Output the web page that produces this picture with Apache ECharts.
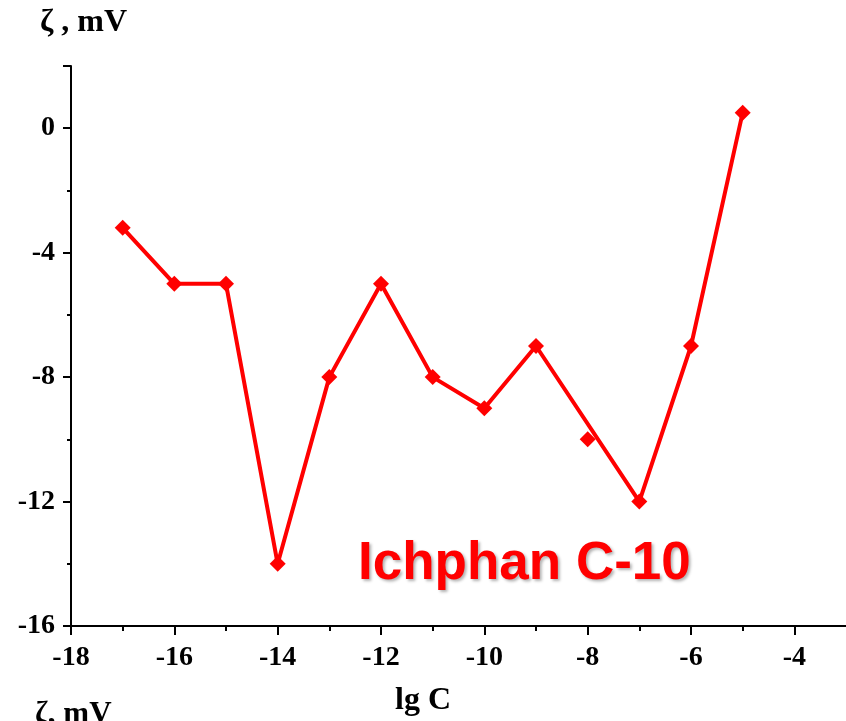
<!DOCTYPE html>
<html>
<head>
<meta charset="utf-8">
<script src="https://cdn.jsdelivr.net/npm/echarts@6/dist/echarts.min.js"></script>
<style>
  html, body { margin: 0; padding: 0; background: #fff; }
  #main { width: 846px; height: 721px; }
</style>
</head>
<body>
<div id="main"></div>
<script>
// lg C values joined by the line
const lgC = [-17, -16, -15, -14, -13, -12, -11, -10, -9, -7, -6, -5];
const zeta = [-3.2, -5, -5, -14, -8, -5, -8, -9, -7, -12, -7, 0.5];
// lone point not on the line
const lgCExtra = [-8];
const zetaExtra = [-10];

const xMajor = [-18, -16, -14, -12, -10, -8, -6, -4];
const xMinor = [-17, -15, -13, -11, -9, -7, -5];
const yMajor = [-16, -12, -8, -4, 0, 2];
const yLabels = [-16, -12, -8, -4, 0];
const yMinor = [-14, -10, -6, -2];

const chart = echarts.init(document.getElementById("main"));

const labelFont = {
  fontFamily: "Liberation Serif",
  fontWeight: "bold",
  fontSize: 28,
  color: "#000",
};
const axisLine = { show: true, onZero: false, lineStyle: { color: "#000", width: 2 } };
const tickStyle = { color: "#000", width: 2 };

const options = {
  animation: false,
  backgroundColor: "#fff",
  grid: { left: 71, right: 0, top: 66, bottom: 95, containLabel: false },
  xAxis: [
    {
      type: "value",
      min: -18,
      max: -3,
      interval: 2,
      splitLine: { show: false },
      axisLine,
      axisTick: { show: true, length: 9, customValues: xMajor, lineStyle: tickStyle },
      axisLabel: { customValues: xMajor, margin: 18, ...labelFont },
    },
    {
      type: "value",
      min: -18,
      max: -3,
      position: "bottom",
      splitLine: { show: false },
      axisLine: { show: false, onZero: false },
      axisTick: { show: true, length: 5, customValues: xMinor, lineStyle: tickStyle },
      axisLabel: { show: false },
    },
  ],
  yAxis: [
    {
      type: "value",
      min: -16,
      max: 2,
      interval: 4,
      splitLine: { show: false },
      axisLine,
      axisTick: { show: true, length: 8, customValues: yMajor, lineStyle: tickStyle },
      axisLabel: { customValues: yLabels, margin: 16, ...labelFont },
    },
    {
      type: "value",
      min: -16,
      max: 2,
      position: "left",
      splitLine: { show: false },
      axisLine: { show: false, onZero: false },
      axisTick: { show: true, length: 4, customValues: yMinor, lineStyle: tickStyle },
      axisLabel: { show: false },
    },
  ],
  series: [
    {
      type: "line",
      data: lgC.map((x, i) => [x, zeta[i]]),
      symbol: "diamond",
      symbolSize: 16,
      lineStyle: { color: "#ff0000", width: 4 },
      itemStyle: { color: "#ff0000", opacity: 1 },
    },
    {
      type: "scatter",
      data: lgCExtra.map((x, i) => [x, zetaExtra[i]]),
      symbol: "diamond",
      symbolSize: 16,
      itemStyle: { color: "#ff0000", opacity: 1 },
    },
  ],
  graphic: [
    {
      type: "text",
      left: 40,
      top: 7,
      style: { text: "ζ , mV", font: "bold 32px 'Liberation Serif'", fill: "#000" },
    },
    {
      type: "text",
      left: 395,
      top: 685,
      style: { text: "lg C", font: "bold 32px 'Liberation Serif'", fill: "#000" },
    },
    {
      type: "text",
      left: 35,
      top: 699,
      style: { text: "ζ, mV", font: "bold 31px 'Liberation Serif'", fill: "#000" },
    },
    {
      type: "text",
      left: 358,
      top: 538,
      style: {
        text: "Ichphan C-10",
        font: "bold 53px 'Liberation Sans'",
        fill: "#ff0000",
        textShadowColor: "rgba(0,0,0,0.3)",
        textShadowBlur: 3,
        textShadowOffsetX: 2,
        textShadowOffsetY: 2,
      },
    },
  ],
};

chart.setOption(options);
</script>
</body>
</html>
